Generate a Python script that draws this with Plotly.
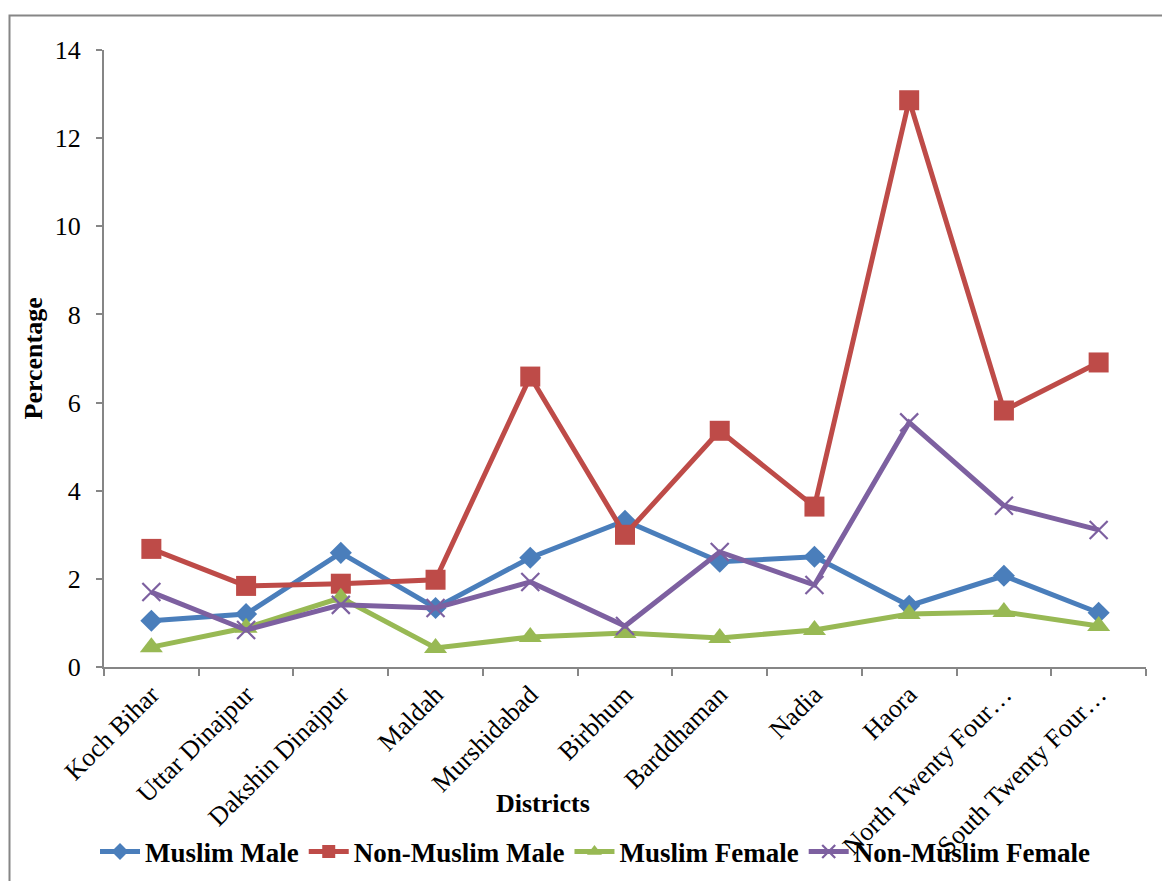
import plotly.graph_objects as go

districts = ["Koch Bihar", "Uttar Dinajpur", "Dakshin Dinajpur", "Maldah", "Murshidabad",
             "Birbhum", "Barddhaman", "Nadia", "Haora", "North Twenty Four…", "South Twenty Four…"]

muslim_male = [1.05, 1.20, 2.59, 1.34, 2.48, 3.32, 2.39, 2.50, 1.39, 2.07, 1.23]
non_muslim_male = [2.68, 1.84, 1.89, 1.98, 6.59, 3.00, 5.36, 3.64, 12.86, 5.82, 6.91]
muslim_female = [0.45, 0.89, 1.57, 0.43, 0.68, 0.77, 0.66, 0.84, 1.20, 1.25, 0.93]
non_muslim_female = [1.70, 0.84, 1.41, 1.34, 1.93, 0.93, 2.61, 1.86, 5.55, 3.66, 3.11]

FONT = "Liberation Serif, Times New Roman, serif"
W, H = 1162, 881
L, R, T, B = 104, 16, 50, 214
PW, PH = W - L - R, H - T - B


def px_x(p):
    return (p - L) / PW


def px_y(p):
    return (H - B - p) / PH


series = [
    ("Muslim Male", muslim_male, "#4A7EBB", "diamond", 17, 13),
    ("Non-Muslim Male", non_muslim_male, "#BE4B48", "square", 20, 13),
    ("Muslim Female", muslim_female, "#98B954", "triangle-up", 20, 13),
    ("Non-Muslim Female", non_muslim_female, "#7D60A0", "x-thin", 18, 13),
]

fig = go.Figure()
for name, vals, color, symbol, size, legend_size in series:
    mline = dict(width=2.2, color=color) if symbol == "x-thin" else dict(width=0)
    fig.add_trace(go.Scatter(
        x=districts, y=vals, name=name, mode="lines+markers", showlegend=False,
        line=dict(color=color, width=5),
        marker=dict(color=color, symbol=symbol, size=size, line=mline),
    ))
    # legend entry with a smaller sample marker
    fig.add_trace(go.Scatter(
        x=[None], y=[None], name=name, mode="lines+markers", showlegend=True,
        line=dict(color=color, width=5),
        marker=dict(color=color, symbol=symbol, size=legend_size, line=mline),
        hoverinfo="skip",
    ))

fig.update_layout(
    width=W, height=H,
    margin=dict(l=L, r=R, t=T, b=B, autoexpand=False),
    paper_bgcolor="white", plot_bgcolor="white",
    font=dict(family=FONT, color="black", size=26),
    showlegend=True,
    legend=dict(orientation="h", x=px_x(595), xanchor="center", y=px_y(852), yanchor="middle",
                font=dict(family=FONT, size=27, color="black", weight="bold"),
                itemwidth=40, tracegroupgap=0, bgcolor="rgba(0,0,0,0)"),
    xaxis=dict(
        type="category", showgrid=False, zeroline=False,
        showline=True, linecolor="#868686", linewidth=2,
        ticks="outside", tickson="boundaries", ticklen=7, tickwidth=2, tickcolor="#868686",
        tickangle=-45, tickfont=dict(family=FONT, size=26, color="black"),
        range=[-0.5, len(districts) - 0.5],
    ),
    yaxis=dict(
        range=[0, 14], dtick=2, showgrid=False, zeroline=False,
        showline=True, linecolor="#868686", linewidth=2,
        ticks="outside", ticklen=6, tickwidth=2, tickcolor="#868686",
        tickfont=dict(family=FONT, size=26, color="black"),
        ticklabelstandoff=10,
    ),
    annotations=[
        dict(text="<b>Districts</b>", x=px_x(543), y=px_y(803), xref="paper", yref="paper",
             showarrow=False, font=dict(family=FONT, size=26, color="black"),
             xanchor="center", yanchor="middle"),
        dict(text="<b>Percentage</b>", x=px_x(33), y=0.5, xref="paper", yref="paper",
             showarrow=False, textangle=-90, font=dict(family=FONT, size=26, color="black"),
             xanchor="center", yanchor="middle"),
    ],
    shapes=[
        dict(type="rect", xref="paper", yref="paper",
             x0=px_x(9.5), x1=px_x(1175), y0=px_y(15.5), y1=px_y(895),
             line=dict(color="#868686", width=2), fillcolor="rgba(0,0,0,0)", layer="below"),
    ],
)

fig.write_html("out.html")
